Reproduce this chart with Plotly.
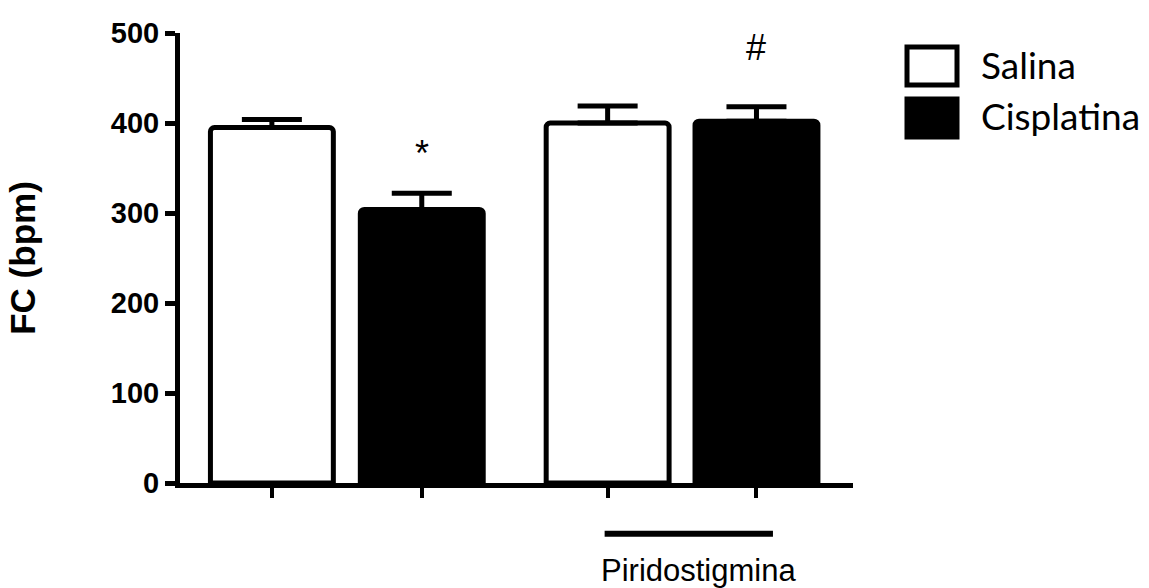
import plotly.graph_objects as go

# ---- data ----
series_names = ["Salina", "Cisplatina"]
salina_mean = [395, 400]
salina_sem = [9, 19]
cisplatina_mean = [304, 402]
cisplatina_sem = [18, 16]
marks = ["*", "#"]          # significance marks over Cisplatina bars
mark_y = [366, 484]
group_label = "Piridostigmina"
y_title = "FC (bpm)"
y_ticks = [0, 100, 200, 300, 400, 500]

# ---- layout positions (bar centres on a numeric axis) ----
sal_x = [0, 2.24]
cis_x = [1, 3.233]
BAR_W = 0.82

fig = go.Figure()
fig.add_trace(go.Bar(
    x=sal_x, y=salina_mean, width=BAR_W, name=series_names[0],
    marker=dict(color="white", line=dict(color="black", width=5), cornerradius=4),
    error_y=dict(type="data", array=salina_sem, arrayminus=[0, 0], symmetric=False,
                 color="black", thickness=5, width=30),
    showlegend=False,
))
fig.add_trace(go.Bar(
    x=cis_x, y=cisplatina_mean, width=BAR_W, name=series_names[1],
    marker=dict(color="black", line=dict(color="black", width=5), cornerradius=4),
    error_y=dict(type="data", array=cisplatina_sem, arrayminus=[0, 0], symmetric=False,
                 color="black", thickness=5, width=30),
    showlegend=False,
))

# significance marks
for xm, txt, ym in zip(cis_x, marks, mark_y):
    fig.add_annotation(x=xm, y=ym, text=txt, showarrow=False,
                       font=dict(family="Liberation Sans", size=36, color="black"),
                       xref="x", yref="y")

# group underline + label
fig.add_shape(type="line", xref="x", yref="paper",
              x0=sal_x[1] - 0.02, x1=cis_x[1] + 0.11, y0=-0.113, y1=-0.113,
              line=dict(color="black", width=6))
fig.add_annotation(x=(sal_x[1] + cis_x[1]) / 2 + 0.11, y=-0.152, xref="x", yref="paper",
                   text=group_label, showarrow=False, yanchor="top",
                   font=dict(family="Liberation Sans", size=31, color="black"))

# manual legend
legend_fill = ["white", "black"]
for i, (nm, fc) in enumerate(zip(series_names, legend_fill)):
    top = 47 + i * 52
    fig.add_shape(type="rect", xref="paper", yref="paper",
                  x0=(907 - 180) / 673, x1=(957 - 180) / 673,
                  y0=(483 - (top + 38)) / 450, y1=(483 - top) / 450,
                  line=dict(color="black", width=5), fillcolor=fc)
    fig.add_annotation(xref="paper", yref="paper",
                       x=(979 - 180) / 673, y=(483 - (top + 17)) / 450,
                       xanchor="left", yanchor="middle", showarrow=False,
                       text=nm, font=dict(family="Lato", size=37, color="black"))

fig.update_layout(
    width=1149, height=588,
    margin=dict(l=180, r=296, t=33, b=105),
    plot_bgcolor="white", paper_bgcolor="white",
    barmode="overlay",
    xaxis=dict(range=[-0.613, 3.877], showgrid=False, zeroline=False,
               showline=True, linecolor="black", linewidth=5,
               ticks="outside", ticklen=10, tickwidth=4, tickcolor="black",
               tickvals=sal_x[:1] + cis_x[:1] + sal_x[1:] + cis_x[1:],
               ticktext=["", "", "", ""]),
    yaxis=dict(range=[0, 500], showgrid=False, zeroline=False,
               showline=True, linecolor="black", linewidth=5,
               ticks="outside", ticklen=10, tickwidth=5, tickcolor="black",
               tickvals=y_ticks, ticklabelstandoff=0,
               tickfont=dict(family="Liberation Sans", size=29, color="black", weight="bold"),
               title=dict(text=y_title, standoff=66,
                          font=dict(family="Liberation Sans", size=35, color="black", weight="bold"))),
)

fig.write_html("out.html")
